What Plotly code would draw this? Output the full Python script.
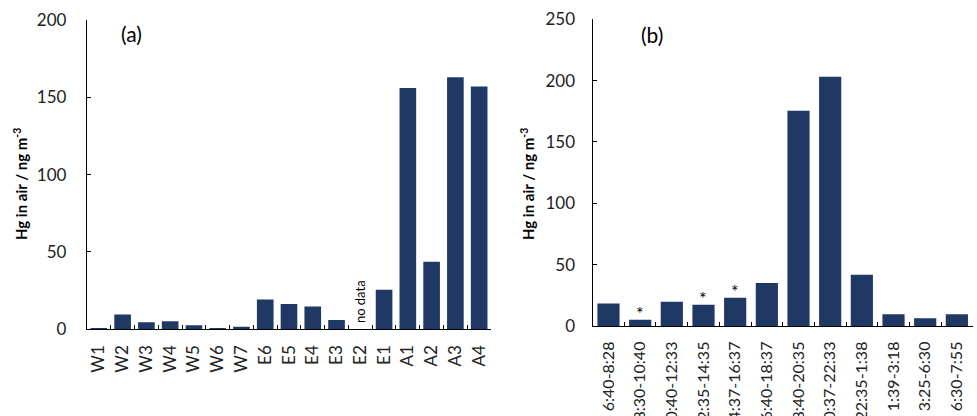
import plotly.graph_objects as go

# Panel (a)
sites = ["W1", "W2", "W3", "W4", "W5", "W6", "W7", "E6", "E5", "E4", "E3", "E2", "E1", "A1", "A2", "A3", "A4"]
hg_sites = [0.6, 9.5, 4.5, 5.2, 2.6, 0.6, 1.6, 19.2, 16.4, 14.7, 6.0, None, 25.5, 156.0, 43.7, 163.0, 157.0]

# Panel (b)
periods = ["6:40-8:28", "8:30-10:40", "10:40-12:33", "12:35-14:35", "14:37-16:37", "16:40-18:37",
           "18:40-20:35", "20:37-22:33", "22:35-1:38", "1:39-3:18", "3:25-6:30", "6:30-7:55"]
hg_periods = [18.4, 5.1, 19.7, 17.3, 23.0, 35.1, 175.5, 203.2, 41.8, 9.5, 6.3, 9.5]
starred = [False, True, False, True, True, False, False, False, False, False, False, False]

BAR = "#1f3864"
FONT = "Lato, 'Open Sans', sans-serif"

fig = go.Figure()
fig.add_trace(go.Bar(x=sites, y=hg_sites, marker=dict(color=BAR, line=dict(width=0)),
                     xaxis="x", yaxis="y", showlegend=False, hoverinfo="skip"))
fig.add_trace(go.Bar(x=periods, y=hg_periods, marker=dict(color=BAR, line=dict(width=0)),
                     xaxis="x2", yaxis="y2", showlegend=False, hoverinfo="skip"))

axis_common = dict(showline=True, linecolor="black", linewidth=1.3, ticks="inside", ticklen=4,
                   tickcolor="black", showgrid=False, zeroline=False, automargin=False)
tf = dict(family=FONT, size=17, color="#222")
tf2 = dict(family=FONT, size=16, color="#222")

fig.update_layout(
    template="none",
    width=977, height=416,
    margin=dict(l=0, r=0, t=0, b=0),
    paper_bgcolor="white", plot_bgcolor="white",
    bargap=0.3,
    xaxis=dict(domain=[0.089, 0.5026], anchor="y", tickson="boundaries", tickangle=-90,
               ticklabelstandoff=8, tickfont=tf, **axis_common),
    yaxis=dict(domain=[0.2084, 0.952], anchor="x", range=[0, 200], tickvals=[0, 50, 100, 150, 200],
               ticklabelstandoff=16, tickfont=tf, **axis_common),
    xaxis2=dict(domain=[0.6066, 0.9956], anchor="y2", tickson="boundaries", tickangle=-90,
                ticklabelstandoff=8, tickfont=tf2, **axis_common),
    yaxis2=dict(domain=[0.2163, 0.9536], anchor="x2", range=[0, 250], tickvals=[0, 50, 100, 150, 200, 250],
                ticklabelstandoff=13, tickfont=tf, **axis_common),
)

ann = []
ytitle = "<b>Hg in air / ng m<sup>-3</sup></b>"
ann.append(dict(text=ytitle, xref="paper", yref="paper", x=20/977, y=(416-184)/416, textangle=-90,
                showarrow=False, font=dict(family=FONT, size=15, color="black"), xanchor="center", yanchor="middle"))
ann.append(dict(text=ytitle, xref="paper", yref="paper", x=527/977, y=(416-184)/416, textangle=-90,
                showarrow=False, font=dict(family=FONT, size=15, color="black"), xanchor="center", yanchor="middle"))
ann.append(dict(text="(a)", xref="paper", yref="paper", x=131/977, y=(416-33)/416, showarrow=False,
                font=dict(family=FONT, size=21, color="black"), xanchor="center", yanchor="middle"))
ann.append(dict(text="(b)", xref="paper", yref="paper", x=652/977, y=(416-34)/416, showarrow=False,
                font=dict(family=FONT, size=21, color="black"), xanchor="center", yanchor="middle"))
ann.append(dict(text="no data", xref="x", yref="y", x="E2", y=0, yanchor="bottom", yshift=4, textangle=-90,
                showarrow=False, font=dict(family=FONT, size=13, color="black")))
for p, v, s in zip(periods, hg_periods, starred):
    if s:
        ann.append(dict(text="*", xref="x2", yref="y2", x=p, y=v, yanchor="bottom", yshift=-6,
                        showarrow=False, font=dict(family=FONT, size=18, color="black")))
fig.update_layout(annotations=ann)

fig.write_html("out.html", config={"displayModeBar": False},
               post_script="document.body.style.margin='0';")
